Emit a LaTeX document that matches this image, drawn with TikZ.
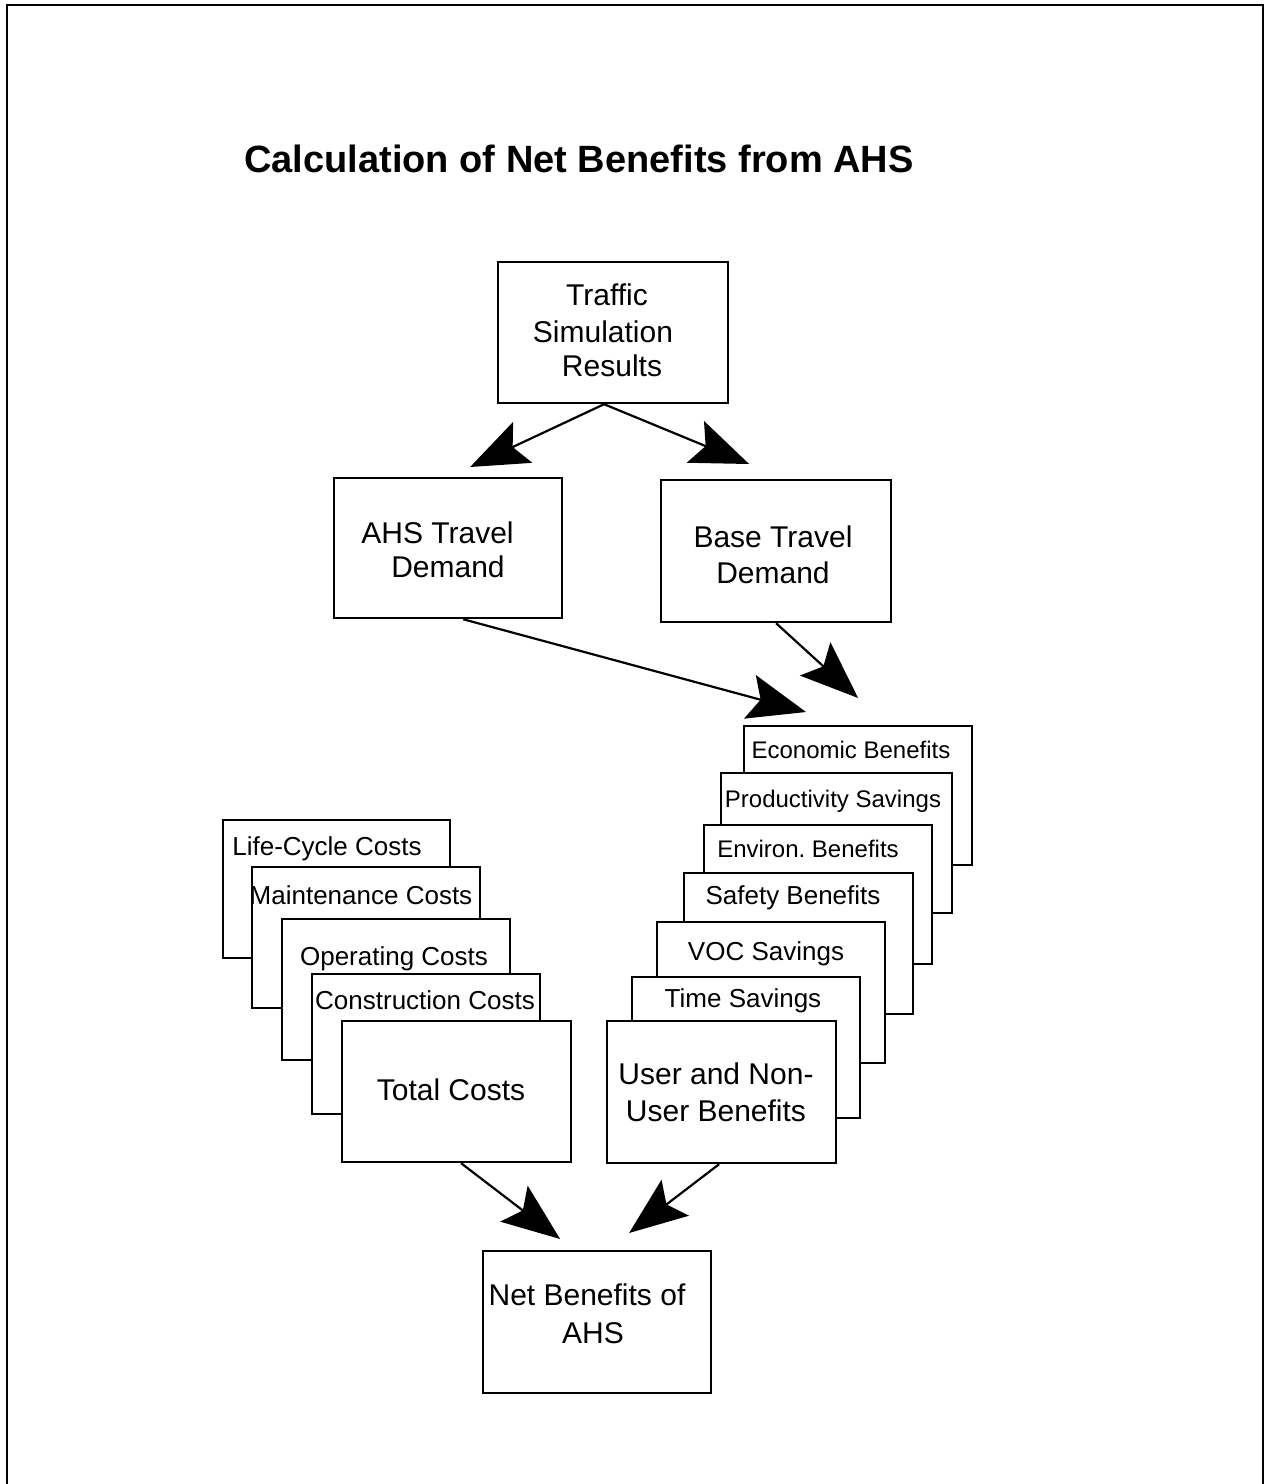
\documentclass[tikz,border=0pt]{standalone}
\usepackage{fontspec}
\setmainfont{Liberation Sans}
\usetikzlibrary{arrows.meta}
\frenchspacing
\begin{document}
\begin{tikzpicture}[x=1pt,y=-1pt,
  box/.style={draw, line width=2.2pt, fill=white, inner sep=0pt, anchor=north west},
  lbl/.style={inner sep=0pt, anchor=base},
  big/.style={font=\fontsize{30}{36}\selectfont},
  mid/.style={font=\fontsize{26}{31}\selectfont},
  sml/.style={font=\fontsize{24}{29}\selectfont},
  conn/.style={line width=2.2pt, -{Stealth[length=58pt, width=45pt, inset=11pt]}},
]
\useasboundingbox (0,0) rectangle (1265,1484);
\draw[line width=2.8pt] (7,1490) -- (7,5) -- (1263,5) -- (1263,1490);

\node[lbl, font=\fontsize{38}{46}\selectfont\bfseries] (title) at (579,172) {Calculation of Net Benefits from AHS};

% top
\node[box, minimum width=230pt, minimum height=141pt] (traffic) at (497,261) {};
\node[lbl, big] (tr1) at (607,305) {Traffic};
\node[lbl, big] (tr2) at (603,342) {Simulation};
\node[lbl, big] (tr3) at (612,376) {Results};

\node[box, minimum width=228pt, minimum height=140pt] (ahs) at (333,477) {};
\node[lbl, big] (ah1) at (437.5,543) {AHS Travel};
\node[lbl, big] (ah2) at (448,577) {Demand};

\node[box, minimum width=230pt, minimum height=142pt] (base) at (660,479) {};
\node[lbl, big] (ba1) at (773,547) {Base Travel};
\node[lbl, big] (ba2) at (773,583) {Demand};

% benefits stack
\node[box, minimum width=228pt, minimum height=139pt] (econ) at (743,725) {};
\node[lbl, sml] (econl) at (851,758) {Economic Benefits};
\node[box, minimum width=231pt, minimum height=140pt] (prod) at (720,772) {};
\node[lbl, sml] (prodl) at (833,807) {Productivity Savings};
\node[box, minimum width=228pt, minimum height=139pt] (env) at (703,824) {};
\node[lbl, sml] (envl) at (808,857) {Environ. Benefits};
\node[box, minimum width=229pt, minimum height=141pt] (safety) at (683,872) {};
\node[lbl, mid] (safetyl) at (793,904) {Safety Benefits};
\node[box, minimum width=228pt, minimum height=141pt] (voc) at (656,921) {};
\node[lbl, mid] (vocl) at (766,960) {VOC Savings};
\node[box, minimum width=228pt, minimum height=141pt] (time) at (631,976) {};
\node[lbl, mid] (timel) at (743,1007) {Time Savings};
\node[box, minimum width=229pt, minimum height=142pt] (user) at (606,1020) {};
\node[lbl, big] (us1) at (716,1084) {User and Non-};
\node[lbl, big] (us2) at (716,1121) {User Benefits};

% costs stack
\node[box, minimum width=227pt, minimum height=138pt] (life) at (222,819) {};
\node[lbl, mid] (lifel) at (327,855) {Life-Cycle Costs};
\node[box, minimum width=228pt, minimum height=141pt] (maint) at (251,866) {};
\node[lbl, mid] (maintl) at (361,904) {Maintenance Costs};
\node[box, minimum width=228pt, minimum height=141pt] (oper) at (281,918) {};
\node[lbl, mid] (operl) at (394,965) {Operating Costs};
\node[box, minimum width=228pt, minimum height=140pt] (constr) at (311,973) {};
\node[lbl, mid] (constrl) at (425,1009) {Construction Costs};
\node[box, minimum width=229pt, minimum height=141pt] (total) at (341,1020) {};
\node[lbl, big] (totall) at (451,1100) {Total Costs};

% net
\node[box, minimum width=228pt, minimum height=142pt] (net) at (482,1250) {};
\node[lbl, big] (ne1) at (587,1305) {Net Benefits of};
\node[lbl, big] (ne2) at (593,1343) {AHS};

% connectors
\draw[conn] ([xshift=-9pt]traffic.south) -- ([xshift=22pt,yshift=10pt]ahs.north);
\draw[conn] ([xshift=-9pt]traffic.south) -- ([xshift=-27pt,yshift=15pt]base.north);
\draw[conn] ([xshift=15pt]ahs.south) -- ([xshift=63pt,yshift=13pt]econ.north west);
\draw[conn] (base.south) -- ([yshift=27pt]econ.north);
\draw[conn] ([xshift=4.5pt]total.south) -- ([xshift=-37pt,yshift=11pt]net.north);
\draw[conn] ([xshift=-2.5pt]user.south) -- ([xshift=32pt,yshift=17pt]net.north);
\end{tikzpicture}
\end{document}
